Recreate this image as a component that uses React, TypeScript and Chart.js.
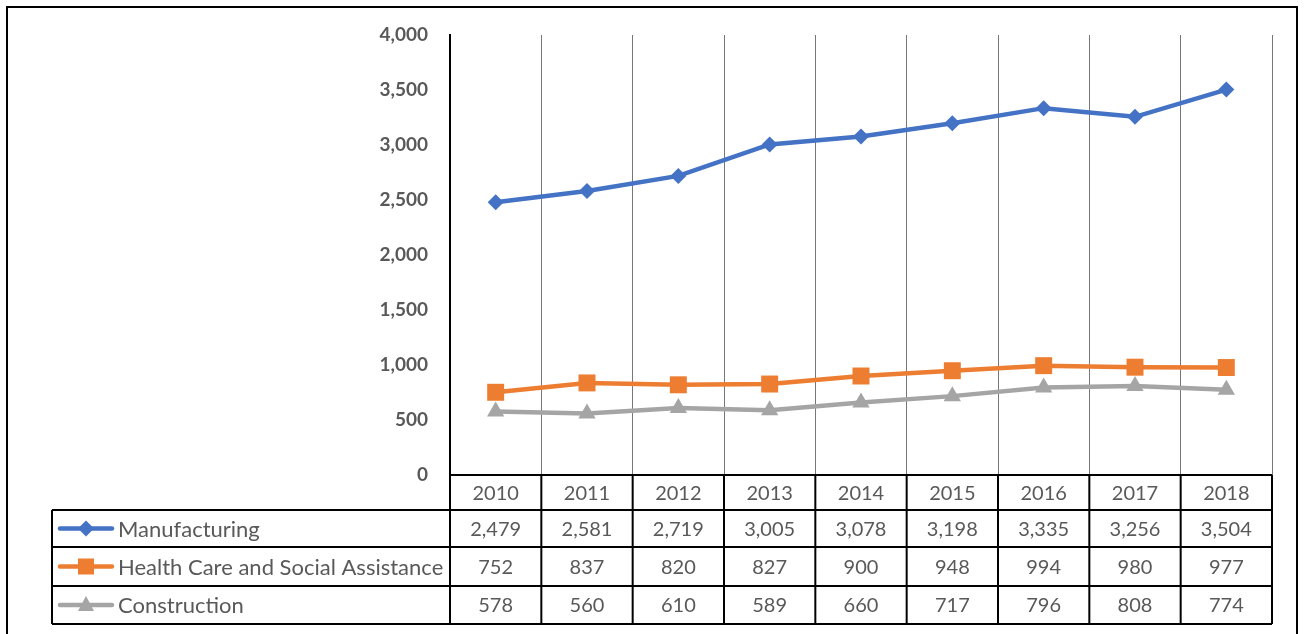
import React, { useEffect, useRef } from "react";
import { Chart, registerables } from "chart.js";

Chart.register(...registerables);

const years = ["2010", "2011", "2012", "2013", "2014", "2015", "2016", "2017", "2018"];
const seriesNames = ["Manufacturing", "Health Care and Social Assistance", "Construction"];
const manufacturing = [2479, 2581, 2719, 3005, 3078, 3198, 3335, 3256, 3504];
const healthCare = [752, 837, 820, 827, 900, 948, 994, 980, 977];
const construction = [578, 560, 610, 589, 660, 717, 796, 808, 774];
const seriesColors = ["#4472C4", "#ED7D31", "#A5A5A5"];
const seriesStyles = ["rectRot", "rect", "triangle"];
const seriesRadius = [8, 12, 10];
const yTicks = [0, 500, 1000, 1500, 2000, 2500, 3000, 3500, 4000];

const fmt = (v: number) => v.toLocaleString("en-US");
const TEXT = "#595959";
const TABLE_FONT = "20px Lato, 'Open Sans', sans-serif";
const LEGEND_FONT = "22px Lato, 'Open Sans', sans-serif";

const tablePlugin = {
  id: "dataTable",
  beforeDraw(chart: any) {
    const ctx = chart.ctx;
    ctx.save();
    ctx.fillStyle = "#fff";
    ctx.fillRect(0, 0, chart.width, chart.height);
    ctx.restore();
  },
  afterDraw(chart: any) {
    const ctx = chart.ctx;
    const area = chart.chartArea;
    const xs = chart.scales.x;
    const n = years.length;
    const colW = (area.right - area.left) / n;
    const rows = [area.bottom, area.bottom + 35, area.bottom + 72, area.bottom + 111, area.bottom + 149];
    const legendLeft = 52;
    const data = [manufacturing, healthCare, construction];
    ctx.save();
    // outer frame
    ctx.strokeStyle = "#000";
    ctx.lineWidth = 2;
    ctx.strokeRect(7, 7, 1290, chart.height + 20);

    // table lines
    ctx.lineWidth = 2;
    ctx.strokeStyle = "#000";
    ctx.beginPath();
    ctx.moveTo(area.left, rows[0]);
    ctx.lineTo(area.right, rows[0]);
    for (let r = 1; r < rows.length; r++) {
      ctx.moveTo(legendLeft, rows[r]);
      ctx.lineTo(area.right, rows[r]);
    }
    for (let i = 0; i <= n; i++) {
      const x = area.left + i * colW;
      ctx.moveTo(x, rows[0]);
      ctx.lineTo(x, rows[4]);
    }
    ctx.moveTo(legendLeft, rows[1]);
    ctx.lineTo(legendLeft, rows[4]);
    ctx.stroke();

    // text
    ctx.fillStyle = TEXT;
    ctx.font = TABLE_FONT;
    ctx.textAlign = "center";
    ctx.textBaseline = "middle";
    for (let i = 0; i < n; i++) {
      const cx = xs.getPixelForValue(i);
      ctx.fillText(years[i], cx, (rows[0] + rows[1]) / 2 + 1);
      for (let s = 0; s < 3; s++) {
        ctx.fillText(fmt(data[s][i]), cx, (rows[s + 1] + rows[s + 2]) / 2 + 1);
      }
    }
    // legend keys
    ctx.textAlign = "left";
    ctx.font = LEGEND_FONT;
    for (let s = 0; s < 3; s++) {
      const cy = (rows[s + 1] + rows[s + 2]) / 2;
      ctx.strokeStyle = seriesColors[s];
      ctx.lineWidth = 4.5;
      ctx.lineCap = "round";
      ctx.beginPath();
      ctx.moveTo(60, cy);
      ctx.lineTo(112, cy);
      ctx.stroke();
      ctx.fillStyle = seriesColors[s];
      ctx.beginPath();
      if (s === 0) {
        ctx.moveTo(86, cy - 8);
        ctx.lineTo(94, cy);
        ctx.lineTo(86, cy + 8);
        ctx.lineTo(78, cy);
      } else if (s === 1) {
        ctx.rect(78, cy - 8, 16, 16);
      } else {
        ctx.moveTo(86, cy - 9);
        ctx.lineTo(94, cy + 6);
        ctx.lineTo(78, cy + 6);
      }
      ctx.closePath();
      ctx.fill();
      ctx.fillStyle = TEXT;
      ctx.fillText(seriesNames[s], 118, cy + 1);
    }
    ctx.restore();
  },
};

export default function App() {
  const ref = useRef<HTMLCanvasElement>(null);
  useEffect(() => {
    document.body.style.margin = "0";
    const values = [manufacturing, healthCare, construction];
    const chart = new Chart(ref.current!, {
      type: "line",
      data: {
        labels: years,
        datasets: seriesNames.map((name, s) => ({
          label: name,
          data: values[s],
          borderColor: seriesColors[s],
          backgroundColor: seriesColors[s],
          borderWidth: 4.5,
          pointStyle: seriesStyles[s] as any,
          pointRadius: seriesRadius[s],
          pointBorderWidth: 0,
          pointBackgroundColor: seriesColors[s],
          tension: 0,
        })),
      },
      options: {
        animation: false,
        responsive: false,
        devicePixelRatio: 1,
        layout: { padding: { left: 0, top: 35, right: 32, bottom: 159 } },
        plugins: { legend: { display: false }, tooltip: { enabled: false }, title: { display: false } },
        scales: {
          x: {
            offset: true,
            grid: { offset: true, color: "#777777", lineWidth: 1, drawTicks: false },
            border: { display: false },
            ticks: { display: false },
            afterFit: (s: any) => { s.height = 0; },
          },
          y: {
            min: 0,
            max: 4000,
            afterBuildTicks: (s: any) => { s.ticks = yTicks.map((v) => ({ value: v })); },
            grid: { display: false, drawTicks: false },
            border: { display: true, color: "#000", width: 2 },
            ticks: {
              padding: 22,
              color: TEXT,
              font: { family: "Lato, 'Open Sans', sans-serif", size: 19, weight: "bold" },
              callback: (v: any) => fmt(Number(v)),
            },
            afterFit: (s: any) => { s.width = 450; },
          },
        },
      },
      plugins: [tablePlugin],
    });
    return () => chart.destroy();
  }, []);
  return <canvas ref={ref} width={1304} height={634} style={{ display: "block" }} />;
}
